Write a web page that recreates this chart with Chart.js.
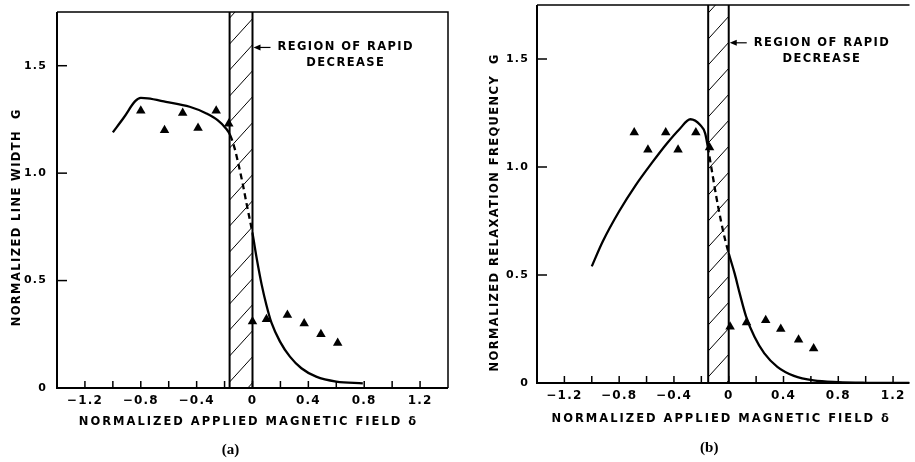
<!DOCTYPE html>
<html>
<head>
<meta charset="utf-8">
<script src="https://cdn.jsdelivr.net/npm/chart.js@4"></script>
<style>
  html, body { margin: 0; padding: 0; background: #fff; overflow: hidden; }
  body { width: 915px; height: 462px; position: relative; }
  .panel { position: absolute; top: -20px; width: 460px; height: 482px; }
  #panelA { left: 0; }
  #panelB { left: 455px; }
</style>
</head>
<body>
<div class="panel" id="panelA"><canvas id="chartA" width="460" height="482"></canvas></div>
<div class="panel" id="panelB"><canvas id="chartB" width="460" height="482"></canvas></div>
<script>
// tick labels shared by both panels
const xLabelValues = [-1.2, -0.8, -0.4, 0, 0.4, 0.8, 1.2];
const yLabelValues = [0, 0.5, 1.0, 1.5];

// (a) normalized line width
const curveAX = [-1.0, -0.92, -0.84, -0.8, -0.75, -0.62, -0.45, -0.33, -0.25, -0.19, -0.16, -0.13, -0.1, -0.07, -0.04, -0.015, 0, 0.031, 0.066, 0.1, 0.135, 0.197, 0.268, 0.35, 0.456, 0.6, 0.79];
const curveAY = [1.19, 1.26, 1.335, 1.35, 1.348, 1.332, 1.309, 1.278, 1.247, 1.208, 1.177, 1.12, 1.04, 0.95, 0.85, 0.77, 0.72, 0.6, 0.48, 0.385, 0.305, 0.216, 0.146, 0.092, 0.053, 0.03, 0.022];
const dashA = [-0.16, 0];
const regionA = [-0.164, 0];
const pointsAX = [-0.8, -0.63, -0.5, -0.39, -0.26, -0.17, 0, 0.1, 0.25, 0.37, 0.49, 0.61];
const pointsAY = [1.29, 1.20, 1.28, 1.21, 1.29, 1.23, 0.31, 0.32, 0.34, 0.30, 0.25, 0.21];

// (b) normalized relaxation frequency
const curveBX = [-1.0, -0.92, -0.8, -0.68, -0.56, -0.45, -0.36, -0.28, -0.208, -0.172, -0.153, -0.124, -0.09, -0.055, -0.025, 0, 0.044, 0.08, 0.127, 0.188, 0.26, 0.355, 0.476, 0.62, 0.8, 1.0, 1.32];
const curveBY = [0.54, 0.655, 0.795, 0.915, 1.02, 1.11, 1.175, 1.221, 1.194, 1.156, 1.094, 0.986, 0.86, 0.745, 0.66, 0.6, 0.505, 0.415, 0.307, 0.214, 0.137, 0.075, 0.033, 0.012, 0.004, 0.001, 0];
const dashB = [-0.153, 0];
const regionB = [-0.15, 0];
const pointsBX = [-0.69, -0.59, -0.46, -0.37, -0.24, -0.14, 0.01, 0.13, 0.27, 0.38, 0.51, 0.62];
const pointsBY = [1.16, 1.08, 1.16, 1.08, 1.16, 1.09, 0.26, 0.28, 0.29, 0.25, 0.20, 0.16];

const LETTER_FONT = '"DejaVu Sans", sans-serif';

function toPoints(xs, ys) {
    return xs.map((x, i) => ({ x: x, y: ys[i] }));
}

function fmtTick(labels) {
    return function (value) {
        const v = Math.round(value * 100) / 100;
        if (!labels.some(l => Math.abs(l - v) < 1e-6)) return '';
        if (v === 0) return '0';
        return (v < 0 ? '\u2212' : '') + Math.abs(v).toFixed(1);
    };
}

function dashed(range) {
    return c => (c.p0.parsed.x >= range[0] - 1e-6 && c.p1.parsed.x <= range[1] + 1e-6) ? [6, 4] : undefined;
}

function spacedText(ctx, text, x, y, spacing, align) {
    ctx.letterSpacing = spacing + 'px';
    const w = ctx.measureText(text).width - spacing;
    let sx = x;
    if (align === 'center') sx = x - w / 2;
    ctx.textAlign = 'left';
    ctx.fillText(text, sx, y);
    return w;
}

// hatched region, frame, inward ticks, titles and the note
const figureExtras = {
    id: 'figureExtras',
    beforeDraw(chart) {
        chart.ctx.letterSpacing = '1.2px';
    },
    beforeDatasetsDraw(chart, args, opts) {
        const { ctx, chartArea: a, scales: { x } } = chart;
        const x0 = x.getPixelForValue(opts.region[0]);
        const x1 = x.getPixelForValue(opts.region[1]);
        ctx.save();
        ctx.beginPath();
        ctx.rect(x0, a.top, x1 - x0, a.bottom - a.top);
        ctx.clip();
        ctx.strokeStyle = '#000';
        ctx.lineWidth = 1;
        const rise = (x1 - x0) * 1.1;
        for (let yy = a.bottom + 20; yy > a.top - rise; yy -= 26) {
            ctx.beginPath();
            ctx.moveTo(x0, yy);
            ctx.lineTo(x1, yy - rise);
            ctx.stroke();
        }
        ctx.restore();
        ctx.save();
        ctx.strokeStyle = '#000';
        ctx.lineWidth = 2;
        [x0, x1].forEach(px => {
            ctx.beginPath();
            ctx.moveTo(px, a.top);
            ctx.lineTo(px, a.bottom);
            ctx.stroke();
        });
        ctx.restore();
    },
    afterDraw(chart, args, opts) {
        const { ctx, chartArea: a, scales: { x, y } } = chart;
        ctx.save();
        ctx.strokeStyle = '#000';
        ctx.fillStyle = '#000';

        // frame
        ctx.lineWidth = 2;
        ctx.beginPath();
        ctx.moveTo(a.left, a.top);
        ctx.lineTo(a.left, a.bottom);
        ctx.lineTo(a.right, a.bottom);
        ctx.stroke();
        ctx.lineWidth = 1.5;
        ctx.beginPath();
        ctx.moveTo(a.left, a.top);
        ctx.lineTo(a.right, a.top);
        if (opts.rightBorder) ctx.lineTo(a.right, a.bottom);
        ctx.stroke();

        // inward ticks
        ctx.lineWidth = 1.5;
        x.ticks.forEach(t => {
            if (Math.abs(t.value - x.min) < 1e-6 || Math.abs(t.value - x.max) < 1e-6) return;
            const px = x.getPixelForValue(t.value);
            ctx.beginPath();
            ctx.moveTo(px, a.bottom);
            ctx.lineTo(px, a.bottom - 7);
            ctx.stroke();
        });
        yLabelValues.forEach(v => {
            if (v === 0) return;
            const py = y.getPixelForValue(v);
            ctx.beginPath();
            ctx.moveTo(a.left, py);
            ctx.lineTo(a.left + 10, py);
            ctx.stroke();
        });

        // axis titles
        ctx.font = 'bold 11.5px ' + LETTER_FONT;
        ctx.textBaseline = 'middle';
        const cx = (a.left + a.right) / 2 + opts.xTitleDx;
        spacedText(ctx, 'NORMALIZED APPLIED MAGNETIC FIELD \u03b4', cx, a.bottom + opts.xTitleDy, 2.0, 'center');
        ctx.save();
        ctx.translate(a.left + opts.yTitleDx, (a.top + a.bottom) / 2 + opts.yTitleDy);
        ctx.rotate(-Math.PI / 2);
        spacedText(ctx, opts.yTitle, 0, 0, 1.4, 'center');
        ctx.restore();

        // note with arrow
        const tip = x.getPixelForValue(opts.region[1]) + 1;
        const ny = y.getPixelForValue(opts.noteY);
        ctx.lineWidth = 1.2;
        ctx.beginPath();
        ctx.moveTo(tip + 5, ny);
        ctx.lineTo(tip + 17, ny);
        ctx.stroke();
        ctx.beginPath();
        ctx.moveTo(tip, ny);
        ctx.lineTo(tip + 7, ny - 3);
        ctx.lineTo(tip + 7, ny + 3);
        ctx.closePath();
        ctx.fill();
        const w = spacedText(ctx, 'REGION OF RAPID', tip + 24, ny, 1.4, 'left');
        spacedText(ctx, 'DECREASE', tip + 24 + w / 2, ny + 16, 1.4, 'center');

        // caption
        ctx.font = 'bold 15px "Liberation Serif", serif';
        spacedText(ctx, opts.caption, (a.left + a.right) / 2 + opts.capDx, a.bottom + opts.capDy, 0, 'center');
        ctx.restore();
    }
};

function makeChart(id, cfg) {
    const ctx = document.getElementById(id).getContext('2d');
    return new Chart(ctx, {
        type: 'scatter',
        data: {
            datasets: [{
                data: toPoints(cfg.curveX, cfg.curveY),
                showLine: true,
                pointRadius: 0,
                borderColor: '#000',
                borderWidth: 2.3,
                cubicInterpolationMode: 'monotone',
                segment: { borderDash: dashed(cfg.dash) }
            }, {
                data: toPoints(cfg.pointsX, cfg.pointsY),
                pointStyle: 'triangle',
                pointRadius: 5.5,
                backgroundColor: '#000',
                borderColor: '#000',
                borderWidth: 0
            }]
        },
        options: {
            responsive: false,
            animation: false,
            devicePixelRatio: 1,
            events: [],
            layout: { padding: { top: cfg.top, right: cfg.right, left: 0, bottom: 0 } },
            plugins: {
                legend: { display: false },
                tooltip: { enabled: false },
                figureExtras: cfg.extras
            },
            scales: {
                x: {
                    type: 'linear',
                    min: -1.4,
                    max: cfg.xMax,
                    grid: { display: false, drawTicks: false },
                    border: { display: false },
                    ticks: {
                        stepSize: 0.2,
                        autoSkip: false,
                        includeBounds: false,
                        maxRotation: 0,
                        padding: 6,
                        color: '#000',
                        font: { family: LETTER_FONT, size: 12, weight: 'bold' },
                        callback: fmtTick(xLabelValues)
                    },
                    afterFit(s) { s.height = cfg.xHeight; }
                },
                y: {
                    type: 'linear',
                    min: 0,
                    max: 1.75,
                    grid: { display: false, drawTicks: false },
                    border: { display: false },
                    ticks: {
                        stepSize: 0.5,
                        includeBounds: false,
                        padding: cfg.yPad,
                        color: '#000',
                        font: { family: LETTER_FONT, size: 11, weight: 'bold' },
                        callback: fmtTick(yLabelValues)
                    },
                    afterFit(s) { s.width = cfg.yWidth; }
                }
            }
        },
        plugins: [figureExtras]
    });
}

makeChart('chartA', {
    curveX: curveAX, curveY: curveAY, dash: dashA,
    pointsX: pointsAX, pointsY: pointsAY,
    xMax: 1.4, top: 32, right: 12, xHeight: 74, yWidth: 57, yPad: 10,
    extras: {
        region: regionA, noteY: 1.585, rightBorder: true,
        yTitle: 'NORMALIZED LINE WIDTH  G',
        xTitleDx: -5, xTitleDy: 34, yTitleDx: -40, yTitleDy: 18,
        caption: '(a)', capDx: -22, capDy: 62
    }
});

makeChart('chartB', {
    curveX: curveBX, curveY: curveBY, dash: dashB,
    pointsX: pointsBX, pointsY: pointsBY,
    xMax: 1.32, top: 25, right: 1, xHeight: 79, yWidth: 82, yPad: 8,
    extras: {
        region: regionB, noteY: 1.575, rightBorder: false,
        yTitle: 'NORMALIZED RELAXATION FREQUENCY  G',
        xTitleDx: -3, xTitleDy: 36, yTitleDx: -42, yTitleDy: 19,
        caption: '(b)', capDx: -14, capDy: 65
    }
});
</script>
</body>
</html>
